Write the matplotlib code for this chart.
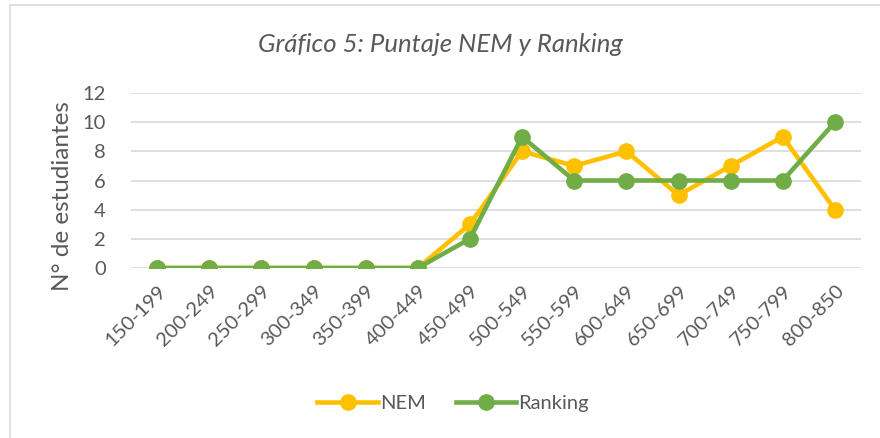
import numpy as np
import matplotlib.pyplot as plt
from matplotlib.patches import Rectangle

# rangos de puntaje
rangos = ['150-199', '200-249', '250-299', '300-349', '350-399', '400-449', '450-499',
          '500-549', '550-599', '600-649', '650-699', '700-749', '750-799', '800-850']
nem = [0, 0, 0, 0, 0, 0, 3, 8, 7, 8, 5, 7, 9, 4]
ranking = [0, 0, 0, 0, 0, 0, 2, 9, 6, 6, 6, 6, 6, 10]

plt.rcParams['font.family'] = ['Lato', 'DejaVu Sans']
gris = '#595959'

fig = plt.figure(figsize=(8.8, 4.38), dpi=100)
fig.patches.append(Rectangle((10/880, -0.01), 1.0, 1 - 5/438 + 0.01, transform=fig.transFigure,
                             fill=False, edgecolor='#d9d9d9', linewidth=1.2))
ax = fig.add_axes([131/880, 1 - 268/438, 730/880, 175/438])

x = np.arange(len(rangos))
ax.plot(x, nem, color='#FFC000', lw=3.3, marker='o', ms=11, label='NEM', zorder=3)
ax.plot(x, ranking, color='#70AD47', lw=3.3, marker='o', ms=11, label='Ranking', zorder=4)

ax.set_xlim(-0.5, len(rangos) - 0.5)
ax.set_ylim(0, 12)
ax.set_yticks(range(0, 13, 2))
ax.set_xticks(x)
ax.set_xticklabels(rangos, rotation=45, ha='right', rotation_mode='anchor')
ax.tick_params(axis='both', length=0, labelsize=14.5, labelcolor=gris)
ax.tick_params(axis='y', pad=18)
ax.tick_params(axis='x', pad=10)
ax.grid(axis='y', color='#d9d9d9', lw=1.2)
ax.set_axisbelow(True)
for s in ax.spines.values():
    s.set_visible(False)
ax.set_ylabel('N° de estudiantes', fontsize=17.5, color=gris)
ax.yaxis.set_label_coords(-0.08, 0.41)

fig.text(0.5, 1 - 45/438, 'Gráfico 5: Puntaje NEM y Ranking', ha='center', va='center',
         fontsize=18.5, style='italic', color=gris)

fig.legend(loc='center', bbox_to_anchor=(0.515, 1 - 403/438), ncol=2, frameon=False,
           fontsize=14.5, labelcolor=gris, handlelength=3, handletextpad=0.1, columnspacing=1.5)

fig.savefig('out.png', dpi=100)
